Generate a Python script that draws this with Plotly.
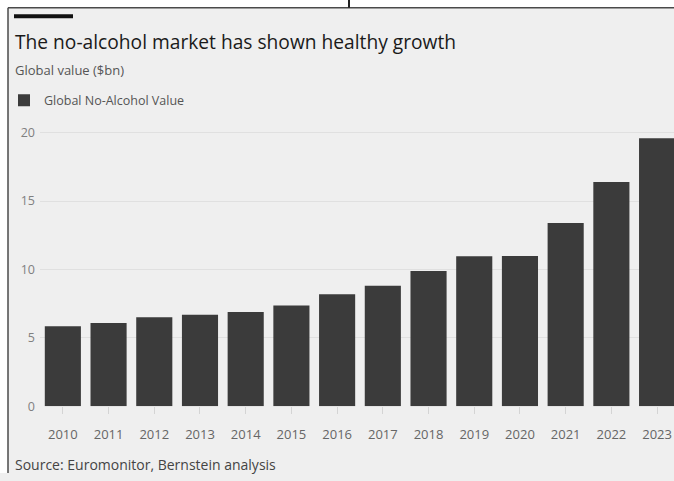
import plotly.graph_objects as go

years = ["2010", "2011", "2012", "2013", "2014", "2015", "2016",
         "2017", "2018", "2019", "2020", "2021", "2022", "2023"]
values = [5.85, 6.09, 6.5, 6.69, 6.88, 7.36, 8.18,
          8.8, 9.88, 10.96, 10.98, 13.4, 16.4, 19.6]
y_ticks = [0, 5, 10, 15, 20]

W, H = 674, 481
FONT = "Open Sans"
BG = "#efefef"

def px(x):
    return x / W

def py(y):
    return 1 - y / H

fig = go.Figure()
fig.add_trace(go.Bar(
    x=years, y=values, name="Global No-Alcohol Value",
    marker=dict(color="#3b3b3b", line=dict(width=0)),
    width=0.79,
))

fig.update_layout(
    width=W, height=H,
    margin=dict(l=0, r=0, t=0, b=0),
    paper_bgcolor=BG, plot_bgcolor=BG,
    font=dict(family=FONT, color="#666666", size=13),
    bargap=0.21,
    showlegend=True,
    legend=dict(
        x=px(4), y=py(87), xanchor="left", yanchor="top",
        bgcolor="rgba(0,0,0,0)", font=dict(size=12.5, color="#555555"),
        itemwidth=30,
    ),
    xaxis=dict(
        domain=[px(40), 1],
        range=[-0.5, 13.37],
        type="category",
        showgrid=False, zeroline=False, showline=False,
        ticks="outside", ticklen=7, tickcolor="#d4d4d4", tickwidth=1,
        tickfont=dict(size=13, color="#666666"),
        ticklabelstandoff=9,
    ),
    yaxis=dict(
        domain=[py(413), py(125)],
        range=[0, 20.72],
        tickvals=y_ticks,
        showgrid=True, gridcolor="#e0e0e0", gridwidth=1,
        zeroline=False, showline=False, ticks="",
        tickfont=dict(size=12.5, color="#808080"),
        ticklabelstandoff=4,
    ),
    annotations=[
        dict(text="The no-alcohol market has shown healthy growth",
             x=px(13), y=py(42), xref="paper", yref="paper",
             xanchor="left", yanchor="middle", showarrow=False,
             font=dict(size=19.2, color="#1a1a1a", family=FONT, weight=500)),
        dict(text="Global value ($bn)",
             x=px(13), y=py(71), xref="paper", yref="paper",
             xanchor="left", yanchor="middle", showarrow=False,
             font=dict(size=13, color="#555555", family=FONT)),
        dict(text="Source: Euromonitor, Bernstein analysis",
             x=px(13), y=py(472), xref="paper", yref="paper",
             xanchor="left", yanchor="middle", showarrow=False,
             font=dict(size=14, color="#444444", family=FONT)),
    ],
    shapes=[
        # white outer strips
        dict(type="rect", xref="paper", yref="paper",
             x0=0, x1=1, y0=py(8), y1=1, fillcolor="white", line=dict(width=0), layer="below"),
        dict(type="rect", xref="paper", yref="paper",
             x0=0, x1=px(8), y0=0, y1=1, fillcolor="white", line=dict(width=0), layer="below"),
        # frame lines
        dict(type="line", xref="paper", yref="paper",
             x0=px(8), x1=1, y0=py(8), y1=py(8), line=dict(color="#4a4a4a", width=1.5)),
        dict(type="line", xref="paper", yref="paper",
             x0=px(8), x1=px(8), y0=py(8), y1=0, line=dict(color="#4a4a4a", width=1.5)),
        dict(type="line", xref="paper", yref="paper",
             x0=px(349), x1=px(349), y0=1, y1=py(8), line=dict(color="#222222", width=2)),
        # FT-style black bar
        dict(type="rect", xref="paper", yref="paper",
             x0=px(14), x1=px(73), y0=py(18.5), y1=py(14.5),
             fillcolor="#111111", line=dict(width=0)),
    ],
)

fig.write_html("out.html")
